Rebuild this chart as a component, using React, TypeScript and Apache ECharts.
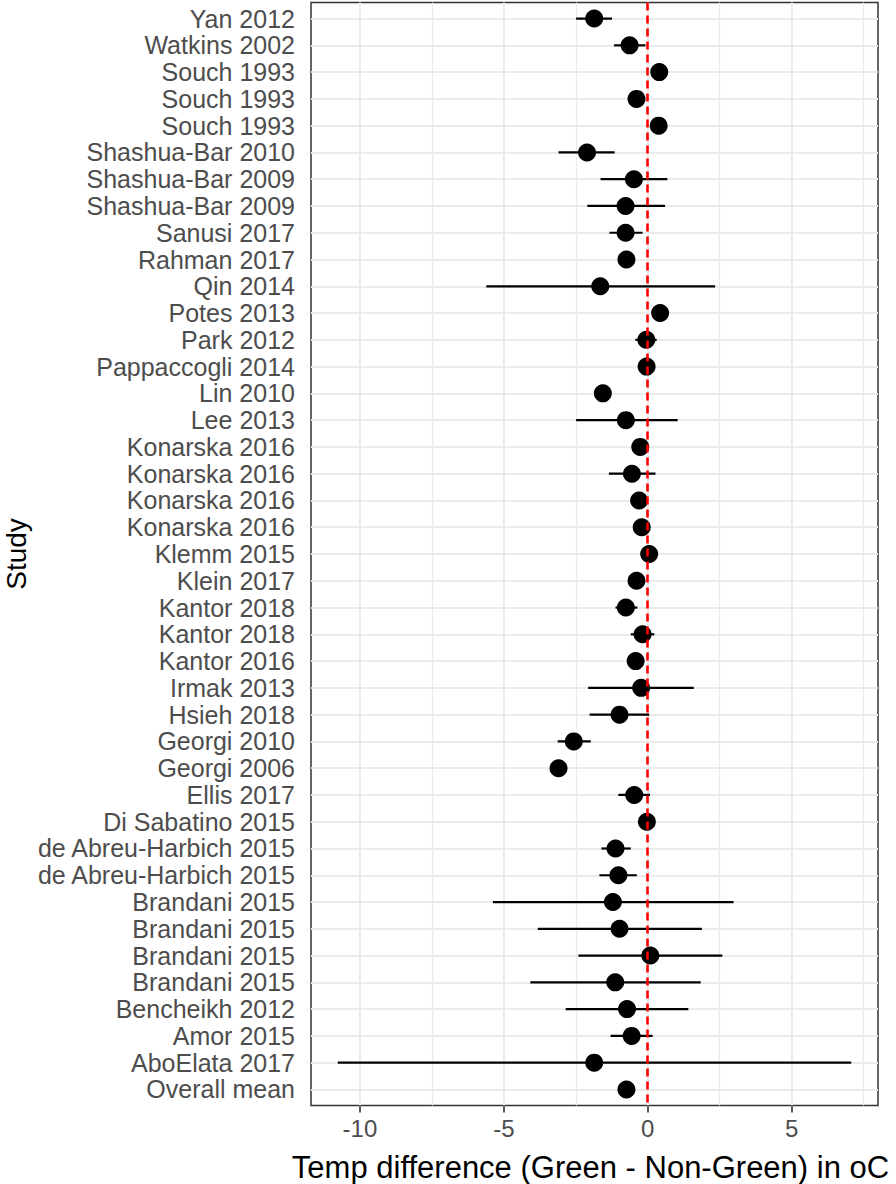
import React, { useEffect, useRef } from "react";
import * as echarts from "echarts";

const studies = [
  "Yan 2012", "Watkins 2002", "Souch 1993", "Souch 1993", "Souch 1993",
  "Shashua-Bar 2010", "Shashua-Bar 2009", "Shashua-Bar 2009", "Sanusi 2017", "Rahman 2017",
  "Qin 2014", "Potes 2013", "Park 2012", "Pappaccogli 2014", "Lin 2010",
  "Lee 2013", "Konarska 2016", "Konarska 2016", "Konarska 2016", "Konarska 2016",
  "Klemm 2015", "Klein 2017", "Kantor 2018", "Kantor 2018", "Kantor 2016",
  "Irmak 2013", "Hsieh 2018", "Georgi 2010", "Georgi 2006", "Ellis 2017",
  "Di Sabatino 2015", "de Abreu-Harbich 2015", "de Abreu-Harbich 2015", "Brandani 2015", "Brandani 2015",
  "Brandani 2015", "Brandani 2015", "Bencheikh 2012", "Amor 2015", "AboElata 2017",
  "Overall mean",
];

const means = [
  -1.86, -0.63, 0.40, -0.39, 0.38,
  -2.11, -0.48, -0.77, -0.77, -0.74,
  -1.65, 0.43, -0.05, -0.04, -1.56,
  -0.76, -0.26, -0.55, -0.30, -0.21,
  0.05, -0.39, -0.76, -0.18, -0.42,
  -0.23, -0.98, -2.57, -3.10, -0.47,
  -0.03, -1.12, -1.02, -1.21, -0.98,
  0.09, -1.13, -0.72, -0.56, -1.86,
  -0.74,
];

const lower = [
  -2.49, -1.17, 0.30, -0.49, 0.28,
  -3.10, -1.64, -2.10, -1.33, -0.84,
  -5.61, 0.33, -0.43, -0.14, -1.66,
  -2.49, -0.36, -1.35, -0.40, -0.31,
  -0.05, -0.49, -1.12, -0.59, -0.52,
  -2.07, -2.02, -3.13, -3.20, -1.02,
  -0.13, -1.61, -1.68, -5.38, -3.82,
  -2.41, -4.08, -2.85, -1.29, -10.77,
  -0.84,
];

const upper = [
  -1.24, -0.08, 0.50, -0.29, 0.48,
  -1.15, 0.68, 0.60, -0.18, -0.64,
  2.34, 0.53, 0.31, 0.06, -1.46,
  1.04, -0.16, 0.27, -0.20, -0.11,
  0.15, -0.29, -0.36, 0.23, -0.32,
  1.60, 0.05, -1.98, -3.00, 0.08,
  0.07, -0.59, -0.38, 2.98, 1.88,
  2.59, 1.84, 1.41, 0.17, 7.07,
  -0.64,
];

const rowIndex = studies.map((_, i) => i + 1);
const xTickValues = [-10, -5, 0, 5];
const xMinorValues = [-7.5, -2.5, 2.5, 7.5];
const refValue = 0;

export default function App() {
  const ref = useRef<HTMLDivElement>(null);

  useEffect(() => {
    if (!ref.current) return;
    const chart = echarts.init(ref.current, null, { renderer: "svg" });
    const font = "'Liberation Sans', Arial, sans-serif";

    chart.setOption({
      animation: false,
      backgroundColor: "#ffffff",
      textStyle: { fontFamily: font },
      grid: {
        left: 311,
        top: 2.5,
        width: 567,
        height: 1103,
        containLabel: false,
        outerBoundsMode: "none",
        show: true,
        backgroundColor: "#ffffff",
        borderColor: "#333333",
        borderWidth: 1.5,
      },
      xAxis: {
        type: "value",
        min: -11.7,
        max: 8.0,
        name: "Temp difference (Green - Non-Green) in oC",
        nameLocation: "middle",
        nameGap: 46,
        nameMoveOverlap: false,
        nameTextStyle: { color: "#000000", fontSize: 31, fontFamily: font, padding: [0, 8, 0, 0] },
        axisLine: { show: false },
        axisTick: {
          show: true,
          customValues: xTickValues,
          length: 7,
          lineStyle: { color: "#333333", width: 1.6 },
        },
        axisLabel: {
          customValues: xTickValues,
          color: "#4d4d4d",
          fontSize: 24,
          fontFamily: font,
          margin: 11,
        },
        splitLine: { show: false },
      },
      yAxis: {
        type: "value",
        inverse: true,
        min: 0.4,
        max: 41.6,
        name: "Study",
        nameLocation: "middle",
        nameGap: 281,
        nameMoveOverlap: false,
        nameRotate: 90,
        nameTextStyle: { color: "#000000", fontSize: 28, fontFamily: font },
        axisLine: { show: false },
        axisTick: {
          show: true,
          customValues: rowIndex,
          length: 7,
          lineStyle: { color: "#333333", width: 1.6 },
        },
        axisLabel: {
          customValues: rowIndex,
          color: "#4d4d4d",
          fontSize: 25,
          fontFamily: font,
          margin: 16,
          formatter: (v: number) => studies[Math.round(v) - 1] ?? "",
        },
        splitLine: { show: false },
      },
      series: [
        {
          type: "scatter",
          data: [],
          z: 1,
          silent: true,
          markLine: {
            z: 1,
            silent: true,
            symbol: ["none", "none"],
            label: { show: false },
            emphasis: { disabled: true },
            lineStyle: { color: "#ebebeb", width: 1.9, type: "solid", opacity: 1 },
            data: [
              ...xTickValues.map((v) => ({ xAxis: v })),
              ...xMinorValues.map((v) => ({ xAxis: v, lineStyle: { color: "#ebebeb", width: 1.3, type: "solid" } })),
              ...rowIndex.map((v) => ({ yAxis: v })),
            ],
          },
        },
        {
          type: "custom",
          z: 3,
          silent: true,
          data: rowIndex.map((r, i) => [lower[i], upper[i], r]),
          encode: { x: [0, 1], y: 2 },
          renderItem: (_params: any, api: any) => {
            const a = api.coord([api.value(0), api.value(2)]);
            const b = api.coord([api.value(1), api.value(2)]);
            return {
              type: "line",
              shape: { x1: a[0], y1: a[1], x2: b[0], y2: b[1] },
              style: { stroke: "#000000", lineWidth: 2.2 },
            };
          },
        },
        {
          type: "scatter",
          z: 4,
          silent: true,
          symbol: "circle",
          symbolSize: 18,
          itemStyle: { color: "#000000", opacity: 1 },
          data: means.map((m, i) => [m, rowIndex[i]]),
        },
        {
          type: "scatter",
          data: [],
          z: 5,
          silent: true,
          markLine: {
            z: 10,
            silent: true,
            symbol: ["none", "none"],
            label: { show: false },
            emphasis: { disabled: true },
            lineStyle: { color: "#ff0000", width: 2.6, type: [8, 5], opacity: 1 },
            data: [{ xAxis: refValue }],
          },
        },
      ],
    });

    return () => chart.dispose();
  }, []);

  return (
    <div
      ref={ref}
      style={{ position: "absolute", left: 0, top: 0, width: 896, height: 1184 }}
    />
  );
}
